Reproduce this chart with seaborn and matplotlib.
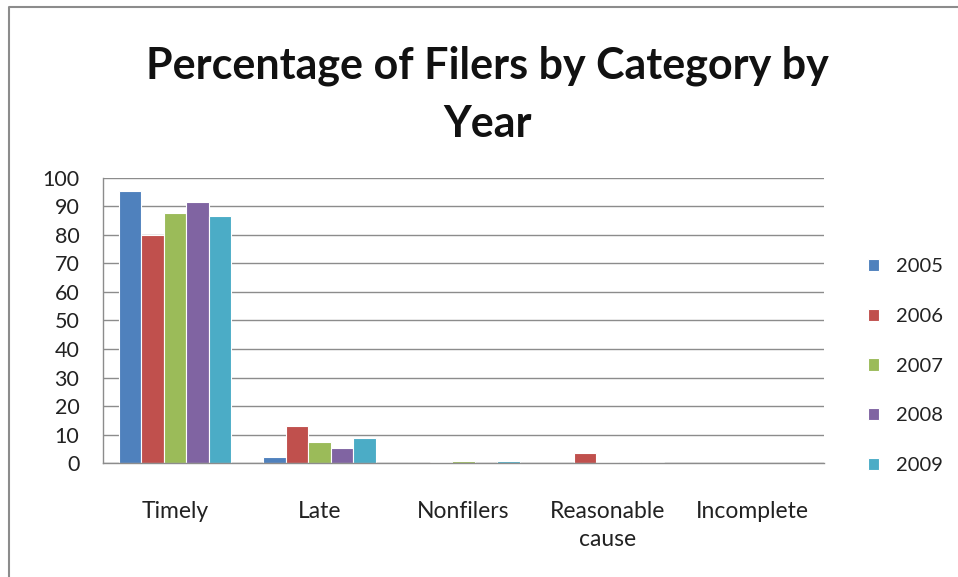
import pandas as pd
import seaborn as sns
import matplotlib.pyplot as plt
from matplotlib.lines import Line2D

# values
categories = ["Timely", "Late", "Nonfilers", "Reasonable\ncause", "Incomplete"]
years = ["2005", "2006", "2007", "2008", "2009"]
pct_2005 = [95.3, 2.1, 0.0, 0.0, 0.0]
pct_2006 = [80.0, 13.1, 0.3, 3.6, 0.0]
pct_2007 = [87.6, 7.6, 0.8, 0.5, 0.0]
pct_2008 = [91.6, 5.3, 0.0, 0.4, 0.0]
pct_2009 = [86.7, 9.0, 0.7, 0.4, 0.1]

series = [pct_2005, pct_2006, pct_2007, pct_2008, pct_2009]
rows = []
for yr, vals in zip(years, series):
    for cat, v in zip(categories, vals):
        rows.append({"Category": cat, "Year": yr, "Percent": v})
df = pd.DataFrame(rows)

office_colors = ["#4F81BD", "#C0504D", "#9BBB59", "#8064A2", "#4BACC6"]
grey = "#8C8C8C"

sns.set_style("white")
plt.rcParams['font.family'] = ['Lato', 'DejaVu Sans']

fig = plt.figure(figsize=(9.58, 5.77), dpi=100)
ax = fig.add_axes([103 / 958, 1 - 463.3 / 577, 721 / 958, 285.8 / 577])

sns.barplot(data=df, x="Category", y="Percent", hue="Year", palette=office_colors,
            width=0.78, edgecolor="white", linewidth=0.8, saturation=1, ax=ax)

ax.set_ylim(0, 100)
ax.set_xlim(-0.5, 4.5)
ax.set_yticks(range(0, 101, 10))
ax.yaxis.grid(True, color=grey, linewidth=1)
ax.set_axisbelow(True)
ax.set_xlabel("")
ax.set_ylabel("")

# category separator ticks like Excel, labels on minor ticks at centres
ax.set_xticks([i - 0.5 for i in range(6)])
ax.set_xticklabels([])
ax.set_xticks(range(5), minor=True)
ax.set_xticklabels(categories, minor=True, fontsize=16.5, color="#222222", linespacing=1.4)
ax.tick_params(axis="x", which="major", length=8, width=1, color=grey, direction="out")
ax.tick_params(axis="x", which="minor", length=0, pad=27)
ax.tick_params(axis="y", length=6, width=1, color=grey, labelsize=15.5, pad=11,
               labelcolor="#222222")

for s in ["top", "right"]:
    ax.spines[s].set_visible(False)
for s in ["left", "bottom"]:
    ax.spines[s].set_color(grey)
    ax.spines[s].set_linewidth(1)

leg = ax.legend(loc="center left", bbox_to_anchor=(1.036, 0.34), frameon=False,
                fontsize=14.5, handlelength=0.55, handleheight=0.55, labelspacing=1.62,
                handletextpad=0.85)
for t in leg.get_texts():
    t.set_color("#222222")

fig.text(0.509, 0.922, "Percentage of Filers by Category by\nYear", ha="center", va="top",
         fontsize=31, fontweight="bold", linespacing=1.56, color="#111111")

# chart area frame (only left and top edges show in the reference)
fig.add_artist(Line2D([8.5 / 958, 8.5 / 958, 1.0], [0.0, 1 - 7 / 577, 1 - 7 / 577],
                      transform=fig.transFigure, color=grey, linewidth=1.5))

fig.savefig("out.png", dpi=100)
